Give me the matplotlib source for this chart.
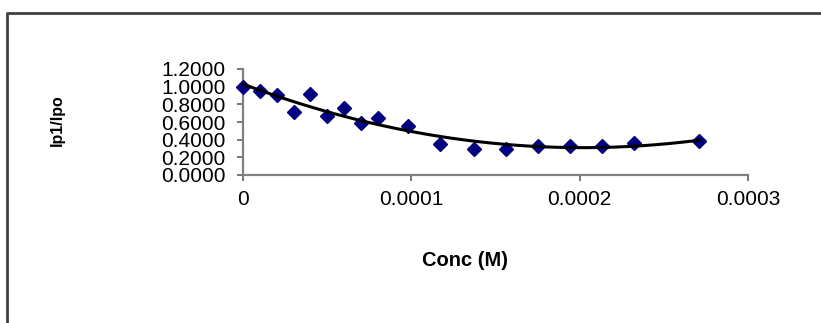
import numpy as np
import matplotlib
matplotlib.use('Agg')
import matplotlib.pyplot as plt
from matplotlib.lines import Line2D
from matplotlib.ticker import FuncFormatter

plt.rcParams['font.family'] = ['Liberation Sans', 'DejaVu Sans']

# concentration (M) and normalised peak current ratio
conc = [0, 0.00001, 0.00002, 0.00003, 0.00004, 0.00005, 0.00006, 0.00007, 0.00008,
        0.000098, 0.000117, 0.000137, 0.000156, 0.000175, 0.000194, 0.000213,
        0.000232, 0.000271]
ratio = [1.00, 0.95, 0.905, 0.71, 0.915, 0.665, 0.76, 0.59, 0.65,
         0.56, 0.35, 0.30, 0.30, 0.33, 0.33, 0.33, 0.36, 0.38]
x_ticks = [0, 0.0001, 0.0002, 0.0003]
y_ticks = [0, 0.2, 0.4, 0.6, 0.8, 1.0, 1.2]

W, H = 821, 323
fig = plt.figure(figsize=(W / 100, H / 100), dpi=100)
ax = fig.add_axes([243 / W, 1 - 175 / H, (748 - 243) / W, (175 - 69) / H])

# excel style 2nd order polynomial trendline
coef = np.polyfit(conc, ratio, 2)
xs = np.linspace(0, max(conc), 200)
ax.plot(conc, ratio, linestyle='none', marker='D', markersize=7.2,
        color='#000080', clip_on=False, zorder=3)
ax.plot(xs, np.polyval(coef, xs), color='black', lw=2.2, clip_on=False, zorder=4)

ax.set_xlim(0, 0.0003)
ax.set_ylim(0, 1.2)
ax.set_xticks(x_ticks)
ax.set_yticks(y_ticks)
ax.xaxis.set_major_formatter(FuncFormatter(lambda v, p: '0' if v == 0 else '%.4f' % v))
ax.yaxis.set_major_formatter(FuncFormatter(lambda v, p: '%.4f' % v))

for s in ['top', 'right']:
    ax.spines[s].set_visible(False)
for s in ['left', 'bottom']:
    ax.spines[s].set_color('#808080')
    ax.spines[s].set_linewidth(1.6)
ax.tick_params(axis='both', direction='out', length=4.5, width=1.2, color='#606060',
               labelsize=15, labelcolor='black')
ax.tick_params(axis='x', pad=6)
ax.tick_params(axis='y', pad=8)

fig.text(57 / W, 1 - 120 / H, 'Ip1/Ipo', rotation=90, ha='center', va='center',
         fontsize=11.5, fontweight='bold')
fig.text(465 / W, 1 - 260 / H, 'Conc (M)', ha='center', va='center',
         fontsize=14.5, fontweight='bold')

# chart area border (cut off at right and bottom)
fig.add_artist(Line2D([7 / W, 7 / W, 1.02], [-0.02, 1 - 13 / H, 1 - 13 / H],
                      transform=fig.transFigure, color='#404040', lw=2))

fig.savefig('out.png', dpi=100)
